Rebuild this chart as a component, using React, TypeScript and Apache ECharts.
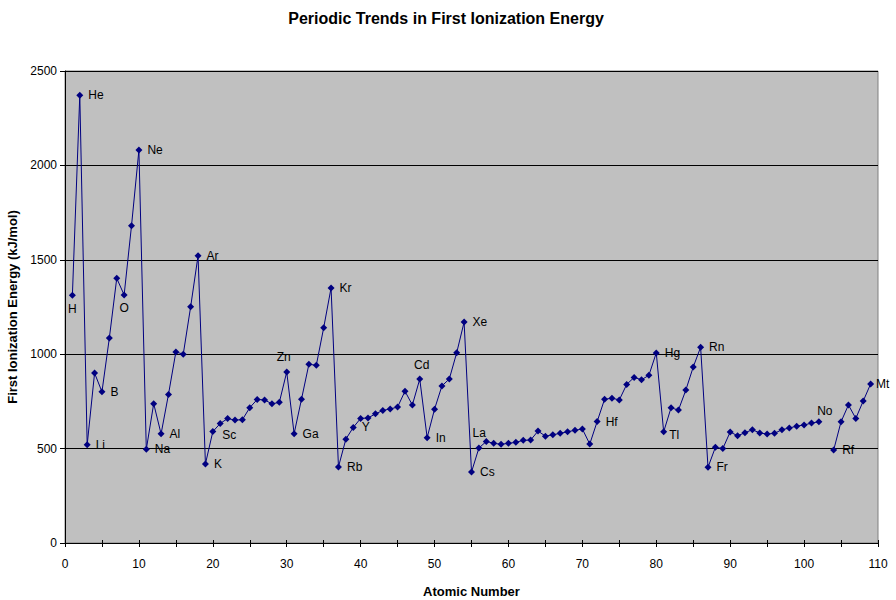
import React, { useEffect, useRef } from "react";
import * as echarts from "echarts";

const symbols = [
  "H","He","Li","Be","B","C","N","O","F","Ne",
  "Na","Mg","Al","Si","P","S","Cl","Ar","K","Ca",
  "Sc","Ti","V","Cr","Mn","Fe","Co","Ni","Cu","Zn",
  "Ga","Ge","As","Se","Br","Kr","Rb","Sr","Y","Zr",
  "Nb","Mo","Tc","Ru","Rh","Pd","Ag","Cd","In","Sn",
  "Sb","Te","I","Xe","Cs","Ba","La","Ce","Pr","Nd",
  "Pm","Sm","Eu","Gd","Tb","Dy","Ho","Er","Tm","Yb",
  "Lu","Hf","Ta","W","Re","Os","Ir","Pt","Au","Hg",
  "Tl","Pb","Bi","Po","At","Rn","Fr","Ra","Ac","Th",
  "Pa","U","Np","Pu","Am","Cm","Bk","Cf","Es","Fm",
  "Md","No","Lr","Rf","Db","Sg","Bh","Hs","Mt",
];

// First ionization energy (kJ/mol); null = no data (Lr)
const energies: (number | null)[] = [
  1312, 2372, 520, 900, 801, 1086, 1402, 1314, 1681, 2081,
  496, 738, 578, 787, 1012, 1000, 1251, 1521, 419, 590,
  633, 659, 651, 653, 717, 760, 758, 737, 745, 906,
  579, 762, 947, 941, 1140, 1351, 403, 550, 612, 660,
  662, 684, 702, 710, 720, 804, 731, 868, 558, 709,
  832, 869, 1008, 1170, 376, 503, 538, 528, 523, 528,
  533, 544, 545, 593, 566, 573, 581, 589, 597, 604,
  524, 643, 761, 767, 758, 840, 877, 865, 888, 1007,
  589, 716, 704, 810, 932, 1037, 401, 507, 500, 588,
  568, 584, 600, 583, 577, 581, 600, 609, 619, 625,
  635, 642, null, 492, 642, 731, 660, 752, 842,
];

const labeledElements = [
  "H","He","Li","B","O","Ne","Na","Al","Ar","K","Sc","Zn","Ga","Kr","Rb","Y",
  "Cd","In","Xe","Cs","La","Hf","Hg","Tl","Rn","Fr","No","Rf","Mt",
];

const chartTitle = "Periodic Trends in First Ionization Energy";
const xAxisName = "Atomic Number";
const yAxisName = "First Ionization Energy (kJ/mol)";

const FONT = "'Liberation Sans', Arial, sans-serif";

function labelFor(sym: string): any {
  const base = { show: true, color: "#000", fontSize: 12, fontFamily: FONT, formatter: "{b}" };
  switch (sym) {
    case "H":
    case "O":
      return { ...base, position: "bottom", distance: 4 };
    case "Zn":
      return { ...base, position: "top", offset: [-3, 0] };
    case "Cd":
      return { ...base, position: "top", offset: [2, 0] };
    case "La":
      return { ...base, position: "top", offset: [-7, 6] };
    case "No":
      return { ...base, position: "top", offset: [6, 4] };
    case "Sc":
      return { ...base, position: "bottom", offset: [9, -3] };
    case "Tl":
      return { ...base, position: "right", offset: [-3, 3] };
    case "Mt":
      return { ...base, position: "right", offset: [-3, 0] };
    default:
      return { ...base, position: "right" };
  }
}

export default function App() {
  const ref = useRef<HTMLDivElement>(null);
  useEffect(() => {
    if (!ref.current) return;
    const chart = echarts.init(ref.current, undefined, { renderer: "svg" });
    const data = energies.map((v, i) => {
      const sym = symbols[i];
      const item: any = { name: sym, value: [i + 1, v === null ? "-" : v] };
      if (labeledElements.includes(sym)) {
        item.label = labelFor(sym);
      }
      return item;
    });
    const xBase = {
      type: "value",
      min: 0,
      max: 110,
      interval: 5,
      gridIndex: 0,
    };
    chart.setOption({
      animation: false,
      backgroundColor: "#ffffff",
      title: {
        text: chartTitle,
        left: 441,
        top: 5,
        textAlign: "center",
        textStyle: { fontFamily: FONT, fontSize: 16, fontWeight: "bold", color: "#000" },
      },
      grid: {
        left: 65,
        right: 18,
        top: 71,
        bottom: 57,
        outerBoundsMode: "none",
        containLabel: false,
        show: true,
        backgroundColor: "#C0C0C0",
        borderColor: "#808080",
        borderWidth: 1,
      },
      xAxis: [
        {
          ...xBase,
          name: xAxisName,
          nameLocation: "middle",
          nameGap: 42,
          nameTextStyle: { fontFamily: FONT, fontSize: 13, fontWeight: "bold", color: "#000" },
          axisLine: { show: true, onZero: false, lineStyle: { color: "#000", width: 1 } },
          axisTick: { show: true, length: 4, lineStyle: { color: "#000" } },
          axisLabel: {
            fontFamily: FONT,
            fontSize: 12,
            color: "#000",
            margin: 15,
            formatter: (v: number) => (v % 10 === 0 ? String(v) : ""),
          },
          splitLine: { show: false },
        },
        {
          ...xBase,
          position: "bottom",
          axisLine: { show: false, onZero: false },
          axisTick: { show: true, inside: true, length: 3, lineStyle: { color: "#000" } },
          axisLabel: { show: false },
          splitLine: { show: false },
        },
      ],
      yAxis: {
        type: "value",
        min: 0,
        max: 2500,
        interval: 500,
        name: yAxisName,
        nameLocation: "middle",
        nameGap: 42,
        nameTextStyle: { fontFamily: FONT, fontSize: 13, fontWeight: "bold", color: "#000" },
        axisLine: { show: true, lineStyle: { color: "#000", width: 1 } },
        axisTick: { show: true, length: 5, lineStyle: { color: "#000" } },
        axisLabel: {
          fontFamily: FONT,
          fontSize: 12,
          color: "#000",
          margin: 8,
          formatter: (v: number) => String(v),
        },
        splitLine: { show: true, lineStyle: { color: "#000", width: 1 } },
      },
      series: [
        {
          type: "line",
          data,
          xAxisIndex: 0,
          connectNulls: false,
          clip: false,
          symbol: "diamond",
          symbolSize: 7,
          showAllSymbol: true,
          lineStyle: { color: "#000080", width: 1 },
          itemStyle: { color: "#000080" },
          label: { show: false },
          emphasis: { disabled: true },
        },
      ],
    });
    return () => chart.dispose();
  }, []);
  return (
    <div
      ref={ref}
      style={{ position: "fixed", left: 0, top: 0, width: 896, height: 600 }}
    />
  );
}
